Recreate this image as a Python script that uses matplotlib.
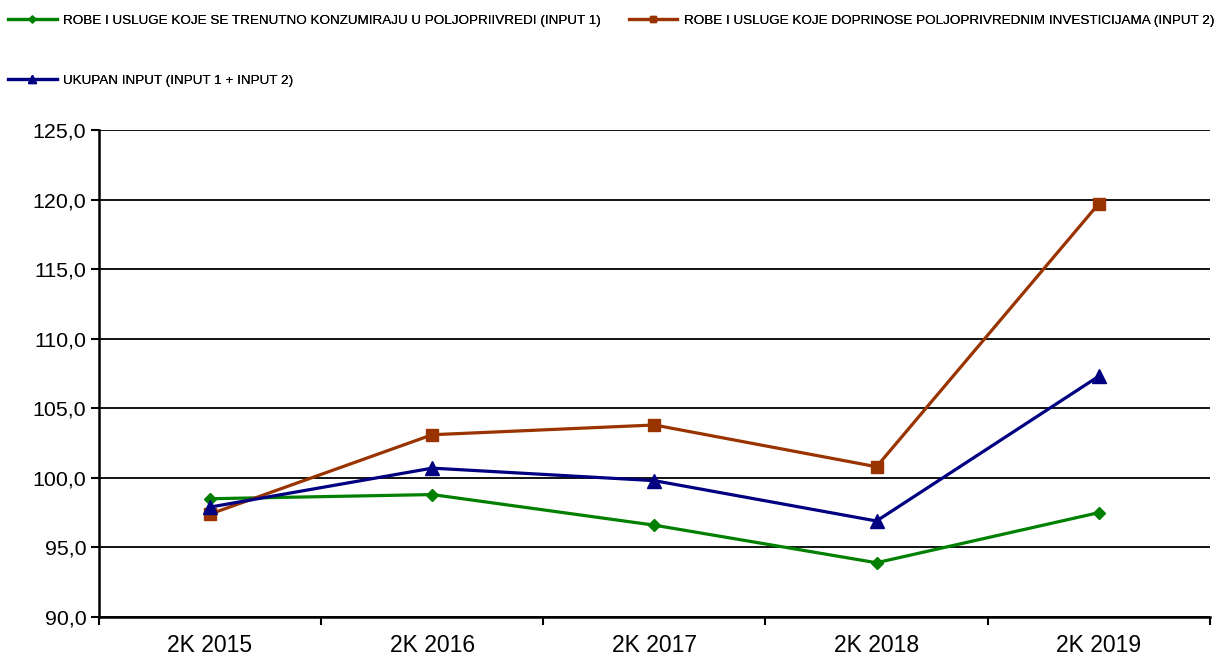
import numpy as np
import matplotlib.pyplot as plt
from matplotlib.ticker import FixedLocator, FuncFormatter

# data
categories = ['2K 2015', '2K 2016', '2K 2017', '2K 2018', '2K 2019']
input1 = [98.5, 98.8, 96.6, 93.9, 97.5]
input2 = [97.4, 103.1, 103.8, 100.8, 119.7]
total = [97.9, 100.7, 99.8, 96.9, 107.3]
labels = ['ROBE I USLUGE KOJE SE TRENUTNO KONZUMIRAJU U POLJOPRIIVREDI (INPUT 1)',
          'ROBE I USLUGE KOJE DOPRINOSE POLJOPRIVREDNIM INVESTICIJAMA (INPUT 2)',
          'UKUPAN INPUT (INPUT 1 + INPUT 2)']

plt.rcParams['font.family'] = ['Liberation Sans', 'DejaVu Sans']

dpi = 100
fig = plt.figure(figsize=(1222/dpi, 658/dpi), dpi=dpi)
ax = fig.add_axes([0.081, 0.0623, 0.909, 0.7401])

x = np.arange(len(categories))
l1, = ax.plot(x, input1, color='#008000', lw=2.3, marker='D', ms=6.5, zorder=3)
l2, = ax.plot(x, input2, color='#993300', lw=2.3, marker='s', ms=8, zorder=3)
l3, = ax.plot(x, total, color='#000080', lw=2.3, marker='^', ms=10.5, zorder=4)

ax.set_xlim(-0.5, len(categories) - 0.5)
ax.set_ylim(90, 125)
ax.set_yticks(np.arange(90, 126, 5))
ax.yaxis.set_major_formatter(FuncFormatter(lambda v, p: f'{v:.1f}'.replace('.', ',')))
ax.grid(axis='y', color='black', lw=1.3)
ax.set_axisbelow(True)

ax.set_xticks(x)
ax.set_xticklabels(categories)
ax.xaxis.set_minor_locator(FixedLocator(np.arange(-0.5, len(categories), 1)))
ax.tick_params(axis='x', which='major', length=0, pad=12, labelsize=16.5)
ax.tick_params(axis='x', which='minor', length=6, width=1.5, direction='out')
ax.tick_params(axis='y', length=6, width=1.5, labelsize=15.4, pad=3)

for s in ['top', 'right']:
    ax.spines[s].set_visible(False)
for s in ['left', 'bottom']:
    ax.spines[s].set_linewidth(1.8)

# legend items placed separately, like the original
leg_font = {'family': ['Liberation Sans'], 'size': 9.7}
for h, lab, pos in [(l1, labels[0], (0.0, 0.99)), (l2, labels[1], (0.508, 0.99)),
                    (l3, labels[2], (0.0, 0.899))]:
    lg = fig.legend([h], [lab], loc='upper left', bbox_to_anchor=pos, frameon=False,
                    prop=leg_font, handlelength=3.6, handletextpad=0.5,
                    markerscale=0.55, borderaxespad=0.2)
    fig.add_artist(lg)

plt.savefig('out.png', dpi=dpi)
